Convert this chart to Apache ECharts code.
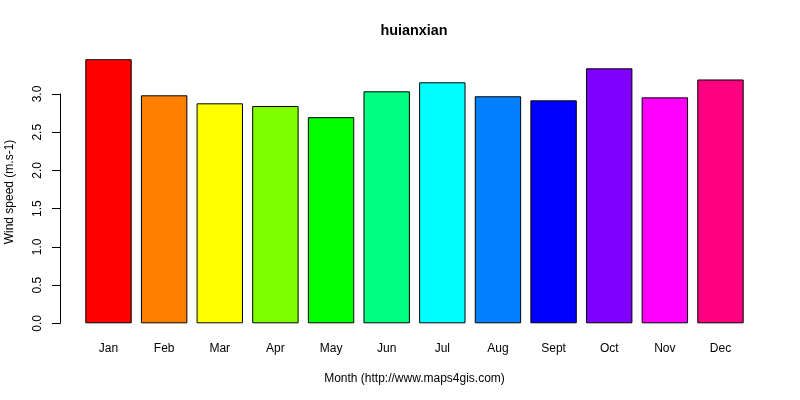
<!DOCTYPE html>
<html><head><meta charset="utf-8">
<script src="https://cdn.jsdelivr.net/npm/echarts@6/dist/echarts.min.js"></script>
<style>html,body{margin:0;padding:0;background:#fff}#c{width:800px;height:400px}</style>
</head><body><div id="c"></div>
<script>
var months = ['Jan','Feb','Mar','Apr','May','Jun','Jul','Aug','Sept','Oct','Nov','Dec'];
var windSpeed = [3.455, 2.983, 2.878, 2.843, 2.697, 3.035, 3.153, 2.970, 2.917, 3.336, 2.956, 3.190];
var barColors = ['#FF0000','#FF8000','#FFFF00','#80FF00','#00FF00','#00FF80','#00FFFF','#0080FF','#0000FF','#8000FF','#FF00FF','#FF0080'];
var yTicks = [0, 0.5, 1.0, 1.5, 2.0, 2.5, 3.0];

var font = 'Liberation Sans, Arial, sans-serif';
var chart = echarts.init(document.getElementById('c'), null, {renderer:'canvas'});
chart.setOption({
  animation: false,
  backgroundColor: '#fff',
  graphic: [{
    type: 'text', x: 414, y: 31,
    style: {text: 'huianxian', font: 'bold 14.4px ' + font, fill: '#000', align: 'center', verticalAlign: 'middle'}
  }, {
    type: 'text', x: 10, y: 192, rotation: Math.PI/2,
    style: {text: 'Wind speed (m.s-1)', font: '12px ' + font, fill: '#000', align: 'center', verticalAlign: 'middle'}
  }],
  grid: {left: 80.7, right: 51.7, top: 94, bottom: 76.7, containLabel: false},
  xAxis: {
    type: 'category', data: months,
    axisLine: {show: false}, axisTick: {show: false},
    axisLabel: {fontFamily: font, fontSize: 12, color: '#000', margin: 19},
    name: 'Month (http://www.maps4gis.com)', nameLocation: 'middle', nameGap: 49,
    nameTextStyle: {fontFamily: font, fontSize: 12, color: '#000'}
  },
  yAxis: {
    type: 'value', min: yTicks[0], max: yTicks[yTicks.length-1], interval: 0.5,
    offset: 20.7,
    axisLine: {show: true, lineStyle: {color: '#000', width: 1}},
    axisTick: {show: true, length: 8, lineStyle: {color: '#000'}},
    splitLine: {show: false},
    axisLabel: {rotate: 90, fontFamily: font, fontSize: 12, color: '#000', margin: 16,
      formatter: function(v){ return v.toFixed(1); }}
  },
  series: [{
    type: 'bar', clip: false, barCategoryGap: '16.6%',
    data: windSpeed.map(function(v, i){ return {value: v, itemStyle: {color: barColors[i]}}; }),
    itemStyle: {borderColor: '#000', borderWidth: 1}
  }]
});
</script></body></html>
